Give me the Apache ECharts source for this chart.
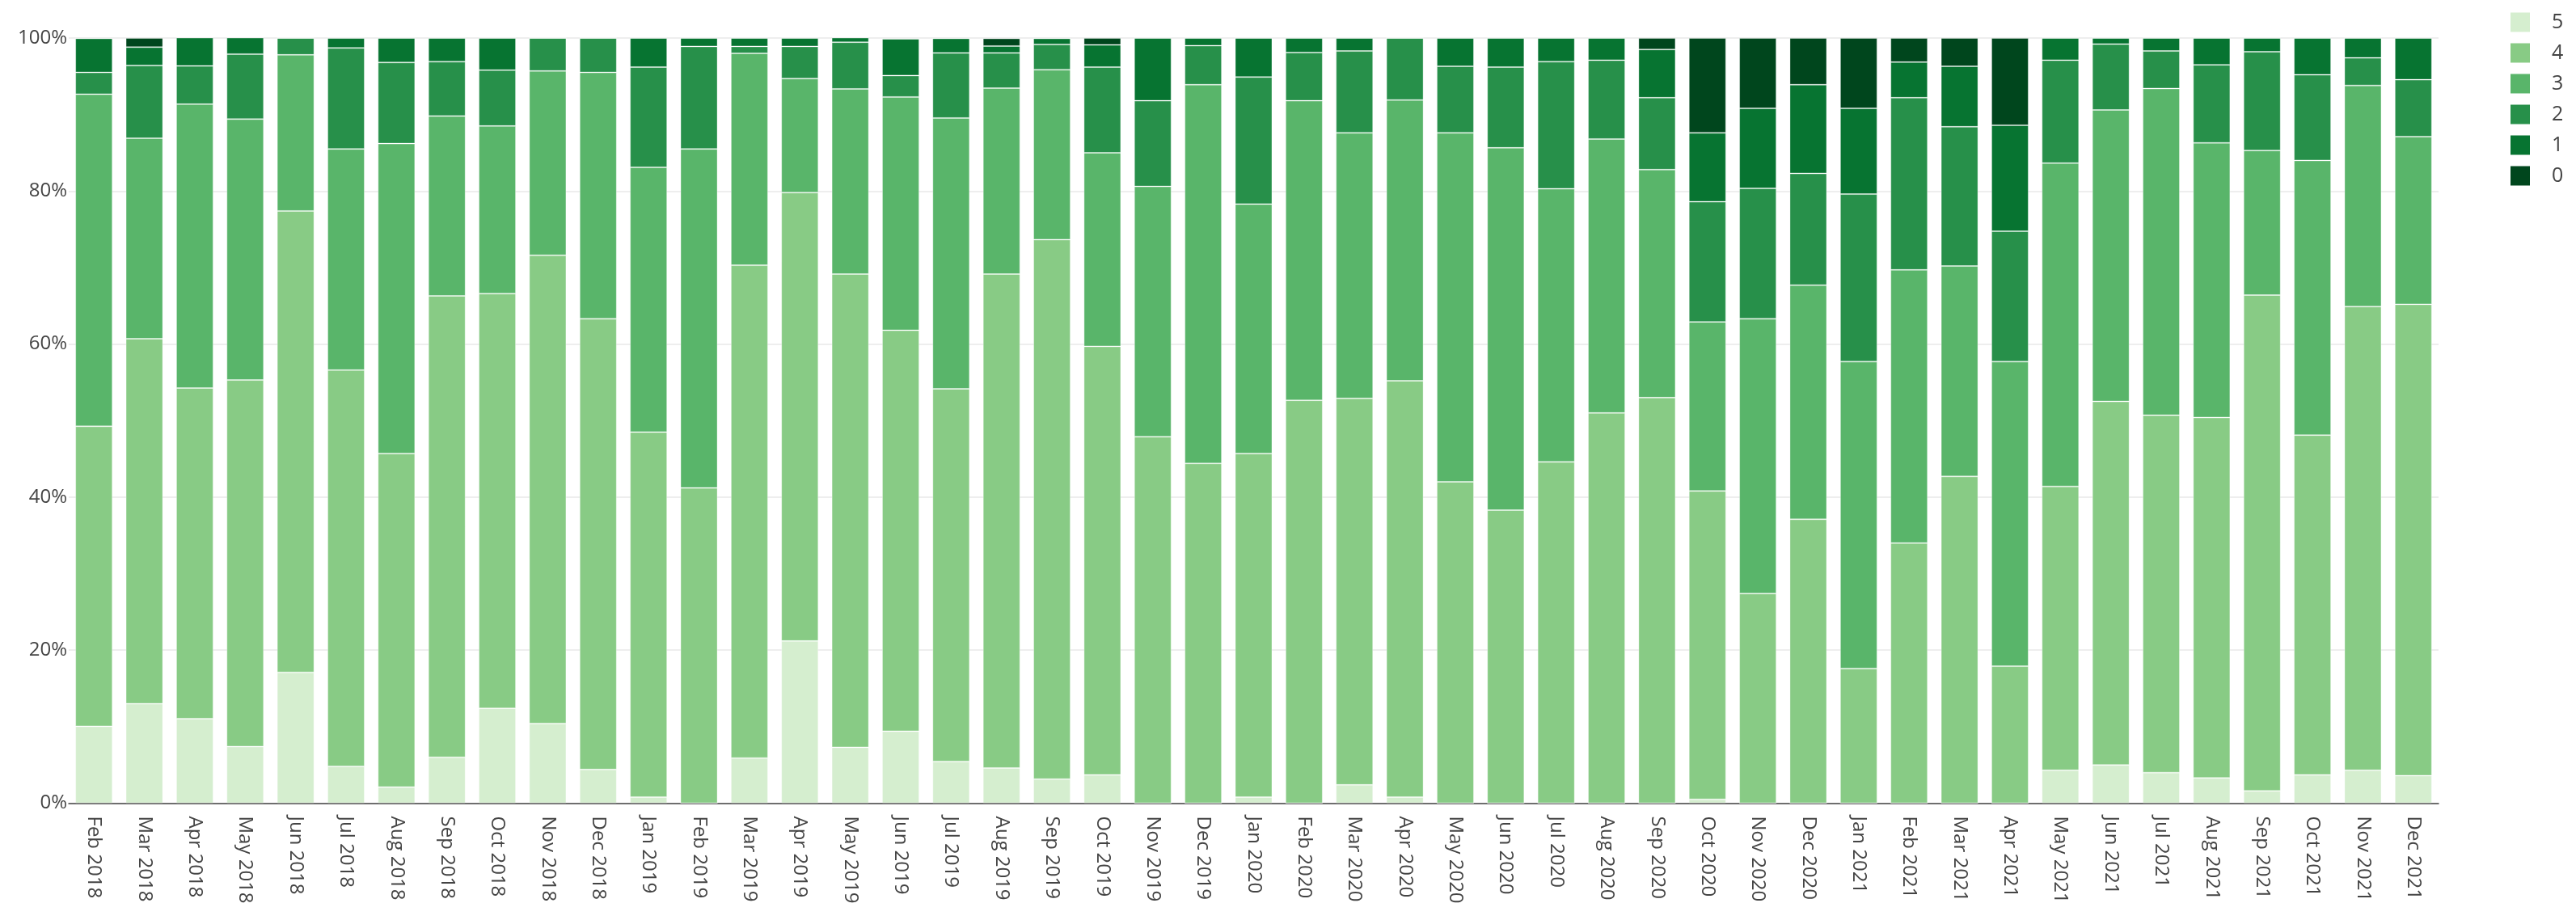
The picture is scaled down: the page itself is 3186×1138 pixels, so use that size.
<!DOCTYPE html>
<html>
<head>
<meta charset="utf-8">
<script src="https://cdn.jsdelivr.net/npm/echarts@6/dist/echarts.min.js"></script>
<style>
html,body{margin:0;padding:0;background:#fff;}
#chart{width:3186px;height:1138px;}
</style>
</head>
<body>
<div id="chart"></div>
<script>
const months = [
  'Feb 2018','Mar 2018','Apr 2018','May 2018','Jun 2018','Jul 2018','Aug 2018','Sep 2018','Oct 2018','Nov 2018','Dec 2018',
  'Jan 2019','Feb 2019','Mar 2019','Apr 2019','May 2019','Jun 2019','Jul 2019','Aug 2019','Sep 2019','Oct 2019','Nov 2019','Dec 2019',
  'Jan 2020','Feb 2020','Mar 2020','Apr 2020','May 2020','Jun 2020','Jul 2020','Aug 2020','Sep 2020','Oct 2020','Nov 2020','Dec 2020',
  'Jan 2021','Feb 2021','Mar 2021','Apr 2021','May 2021','Jun 2021','Jul 2021','Aug 2021','Sep 2021','Oct 2021','Nov 2021','Dec 2021'
];
const yTicks = [0, 20, 40, 60, 80, 100];
const s5 = [10.05,13.0,11.05,7.4,17.1,4.8,2.1,6.0,12.4,10.4,4.4,
  0.8,0,5.9,21.2,7.3,9.4,5.45,4.6,3.15,3.7,0,0,
  0.8,0,2.4,0.8,0,0,0,0,0,0.5,0,0,
  0,0,0,0,4.3,5.0,4.0,3.3,1.6,3.7,4.3,3.6];
const s4 = [39.2,47.7,43.2,47.9,60.3,51.8,43.6,60.3,54.2,61.2,58.9,
  47.7,41.2,64.4,58.6,61.85,52.4,48.7,64.55,70.5,56.0,47.9,44.4,
  44.9,52.65,50.5,54.4,42.0,38.3,44.6,51.0,53.0,40.3,27.4,37.1,
  17.6,34.0,42.7,17.9,37.1,47.5,46.7,47.1,64.8,44.4,60.6,61.6];
const s3 = [43.4,26.2,37.1,34.1,20.4,28.9,40.5,23.5,21.9,24.1,32.2,
  34.6,44.3,27.7,14.9,24.2,30.5,35.4,24.3,22.2,25.3,32.7,49.5,
  32.6,39.15,34.7,36.7,45.6,47.35,35.7,35.8,29.8,22.1,35.9,30.6,
  40.1,35.7,27.5,39.8,42.25,38.1,42.7,35.9,18.9,35.9,28.9,21.9];
const s2 = [2.85,9.5,5.0,8.5,2.2,13.2,10.6,7.1,7.3,4.3,4.5,
  13.1,13.4,0.9,4.2,6.1,2.8,8.5,4.6,3.3,11.2,11.2,5.1,
  16.6,6.3,10.7,8.1,8.7,10.55,16.6,10.3,9.4,15.7,17.05,14.6,
  21.9,22.5,18.2,17.05,13.45,8.6,4.9,10.2,12.9,11.2,3.6,7.45];
const s1 = [4.45,2.4,3.7,2.15,0,1.3,3.2,3.1,4.2,0,0,
  3.8,1.1,1.1,1.1,0.6,4.8,1.9,0.9,0.8,2.9,8.2,1.0,
  5.1,1.9,1.7,0,3.7,3.8,3.1,2.9,6.3,9.0,10.45,11.6,
  11.2,4.65,7.9,13.85,2.9,0.8,1.7,3.5,1.8,4.8,2.6,5.45];
const s0 = [0,1.2,0,0,0,0,0,0,0,0,0,
  0,0,0,0,0,0,0,1.0,0,0.9,0,0,
  0,0,0,0,0,0,0,0,1.5,12.4,9.2,6.1,
  9.2,3.15,3.7,11.4,0,0,0,0,0,0,0,0];

const seriesNames = ['5','4','3','2','1','0'];
const seriesData = [s5, s4, s3, s2, s1, s0];
const colors = ['#d5eecf','#88cb85','#59b56a','#27904a','#077431','#00461d'];

const chart = echarts.init(document.getElementById('chart'), null, {renderer: 'canvas'});
const font = '"Open Sans", "DejaVu Sans", sans-serif';

chart.setOption({
  backgroundColor: '#ffffff',
  animation: false,
  textStyle: {fontFamily: font},
  grid: {left: 85, right: 170, top: 47, bottom: 144.5},
  legend: {
    orient: 'vertical',
    left: 3100,
    top: 10,
    itemWidth: 24,
    itemHeight: 24,
    itemGap: 13,
    icon: 'rect',
    data: seriesNames,
    itemStyle: {borderWidth: 0},
    textStyle: {fontSize: 25, color: '#444', fontFamily: font, lineHeight: 25, padding: [0, 0, 0, 22]}
  },
  xAxis: {
    type: 'category',
    data: months,
    axisLine: {show: true, lineStyle: {color: '#444', width: 1.5}},
    axisTick: {show: false},
    axisLabel: {rotate: -90, fontSize: 24, color: '#444', fontFamily: font, margin: 16, interval: 0}
  },
  yAxis: {
    type: 'value',
    min: yTicks[0],
    max: yTicks[yTicks.length - 1],
    interval: yTicks[1] - yTicks[0],
    axisLine: {show: false},
    axisTick: {show: false},
    splitLine: {lineStyle: {color: '#eeeeee', width: 2}},
    axisLabel: {formatter: '{value}%', fontSize: 24, color: '#444', fontFamily: font, margin: 2}
  },
  series: seriesNames.map((name, i) => ({
    name: name,
    type: 'bar',
    stack: 'total',
    barWidth: 46,
    data: seriesData[i],
    itemStyle: {color: colors[i], borderColor: 'rgba(255,255,255,0.35)', borderWidth: 1},
    emphasis: {disabled: true}
  }))
});
</script>
</body>
</html>
